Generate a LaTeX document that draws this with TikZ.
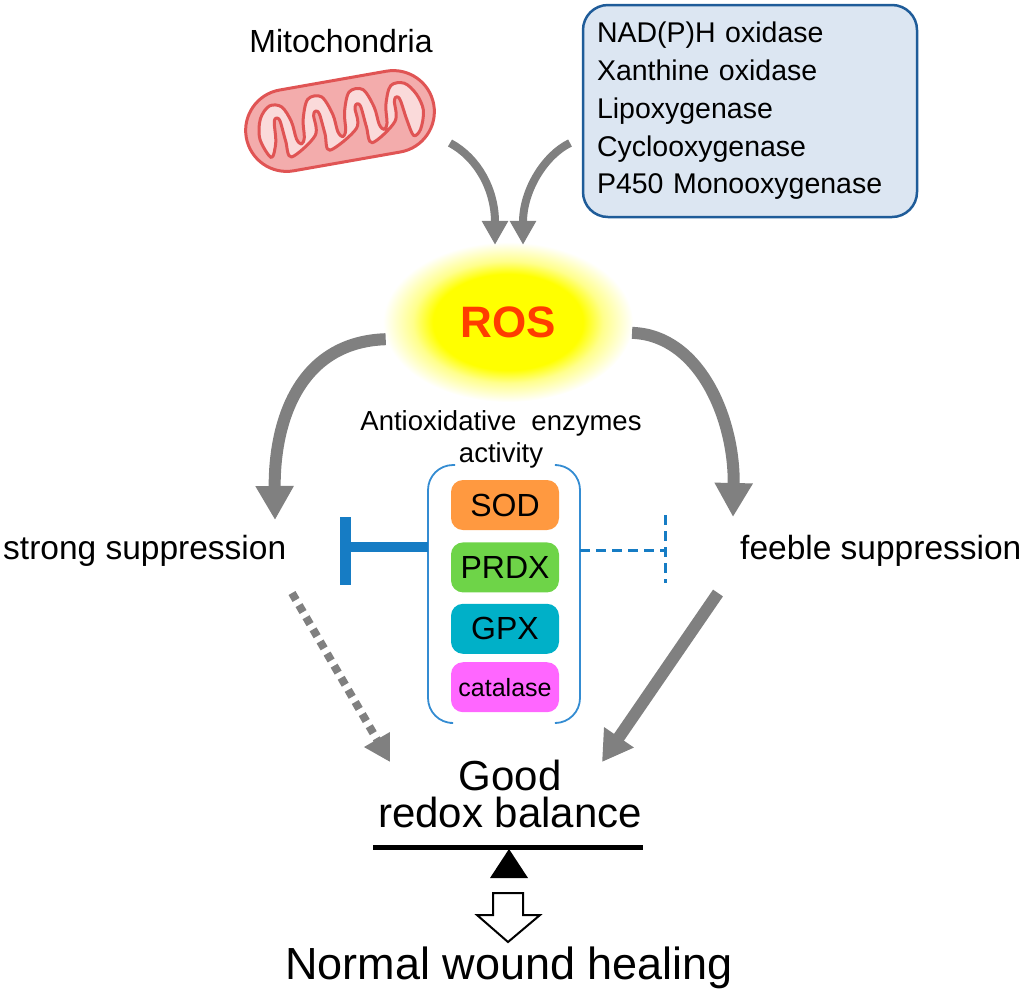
\documentclass[tikz,border=0pt]{standalone}
\usepackage{fontspec}
\setmainfont{Liberation Sans}
\usetikzlibrary{positioning, shapes.geometric, shapes.misc, arrows.meta}

\definecolor{mitored}{RGB}{224,84,84}
\definecolor{mitopink}{RGB}{243,172,172}
\definecolor{mitolight}{RGB}{250,218,218}
\definecolor{srcblue}{RGB}{220,230,242}
\definecolor{srcedge}{RGB}{31,92,153}
\definecolor{rosyellow}{RGB}{255,255,0}
\colorlet{rosfade}{rosyellow!45!white}
\definecolor{rosred}{RGB}{255,60,0}
\definecolor{arrowgray}{RGB}{128,128,128}
\definecolor{inhibblue}{RGB}{22,124,196}
\definecolor{bracketblue}{RGB}{52,140,210}
\definecolor{sodorange}{RGB}{255,153,64}
\definecolor{prdxgreen}{RGB}{110,212,72}
\definecolor{gpxteal}{RGB}{0,176,200}
\definecolor{catmagenta}{RGB}{255,102,255}

\pgfdeclareradialshading{rosglow}{\pgfpoint{0bp}{0bp}}{color(0bp)=(rosyellow); color(15bp)=(rosyellow); color(19bp)=(rosfade); color(25bp)=(white); color(50bp)=(white)}

\begin{document}
\begin{tikzpicture}[x=1pt, y=-1pt,
    bigarrow/.style={draw=arrowgray, line width=12pt, -{Triangle[length=34pt, width=36pt]}},
    smallarrow/.style={draw=arrowgray, line width=8pt, -{Triangle[length=24pt, width=25pt]}},
    enzyme/.style={rounded corners=12pt, minimum width=108pt, minimum height=50pt, inner sep=0pt, font=\fontsize{32}{36}\selectfont},
    bracket/.style={draw=bracketblue, line width=1.8pt, rounded corners=25pt},
    strongstop/.style={draw=inhibblue, line width=10pt},
    weakstop/.style={draw=inhibblue, line width=3pt, dash pattern=on 10pt off 6pt}]
    \useasboundingbox (0,0) rectangle (1024,989);

    % sources
    \node[draw=mitored, fill=mitopink, line width=3pt, rounded rectangle, minimum width=197pt, minimum height=82pt, rotate=10] (mito) at (340,121) {};
    \begin{scope}[shift={(mito.center)}, rotate=10]
        \draw[mitored, fill=mitolight, line width=3pt, line join=round]
            plot[smooth cycle, tension=0.55] coordinates {
                (-82,4) (-78,-16) (-67,-27) (-55,-24)
                (-48,-8) (-46,10) (-42,16) (-38,10) (-36,-8)
                (-28,-27) (-14,-27)
                (-6,-8) (-4,10) (0,16) (4,10) (6,-8)
                (14,-27) (28,-27)
                (36,-8) (38,10) (42,16) (46,10) (48,-8)
                (56,-26) (70,-26) (80,-13) (84,4)
                (78,22) (70,27)
                (66,10) (63,-10) (60,-14) (57,-10) (54,10)
                (28,27)
                (25,10) (23,-10) (20,-14) (17,-10) (15,10)
                (-15,27)
                (-17,10) (-19,-10) (-22,-14) (-25,-10) (-27,10)
                (-54,27)
                (-57,10) (-59,-10) (-62,-14) (-65,-10) (-67,10)
                (-74,24)};
    \end{scope}
    \node[font=\fontsize{32}{38}\selectfont, anchor=base, inner sep=0pt] (mito-label) at (341,52) {Mitochondria};

    \node[draw=srcedge, fill=srcblue, line width=2.5pt, rounded corners=25pt, minimum width=334pt, minimum height=212pt, text width=306pt, inner xsep=14pt, align=left, font=\fontsize{28.5}{37.8}\selectfont] (sources) at (750,111) {NAD(P)H oxidase\\Xanthine oxidase\\Lipoxygenase\\Cyclooxygenase\\P450 Monooxygenase};

    \node[ellipse, shade, shading=rosglow, minimum width=250pt, minimum height=160pt, text=rosred, font=\bfseries\fontsize{44}{48}\selectfont] (ros) at (508,322) {ROS};

    \coordinate (mito-out) at (450,143);
    \coordinate (src-out) at (570,143);
    \draw[smallarrow] (mito-out) .. controls (478,158) and (495,190) .. ([xshift=-13pt, yshift=-3pt]ros.north);
    \draw[smallarrow] (src-out) .. controls (545,155) and (523,190) .. ([xshift=15pt, yshift=-3pt]ros.north);

    % enzymes
    \node[font=\fontsize{27.5}{32}\selectfont, align=center, anchor=north, inner sep=0pt] (antiox) at (501,410) {Antioxidative\hspace{0.55em}enzymes\\activity};

    \node[enzyme, fill=sodorange] (sod) at (505,505) {SOD};
    \node[enzyme, fill=prdxgreen, below=12pt of sod] (prdx) {PRDX};
    \node[enzyme, fill=gpxteal, below=11pt of prdx] (gpx) {GPX};
    \node[enzyme, fill=catmagenta, below=8pt of gpx, font=\fontsize{25}{30}\selectfont] (catalase) {catalase};

    \draw[bracket] (455,465) -| (428,723) -- (450,723);
    \draw[bracket] (557,465) -| (580,723) -- (557,723);

    \node[font=\fontsize{33.5}{40}\selectfont, anchor=base west, inner sep=0pt] (strong) at (3,559) {strong suppression};
    \node[font=\fontsize{33.5}{40}\selectfont, anchor=base west, inner sep=0pt] (feeble) at (740,559) {feeble suppression};

    \coordinate (brace-l) at (428,547);
    \coordinate (stop-l) at (345,547);
    \coordinate (brace-r) at (580,550);
    \coordinate (stop-r) at (665,550);
    \draw[strongstop] (brace-l) -- (stop-l);
    \draw[strongstop, line width=11pt] ([yshift=30pt]stop-l) -- ([yshift=-38pt]stop-l);
    \draw[weakstop] (brace-r) -- (stop-r);
    \draw[weakstop] ([yshift=35pt]stop-r) -- ([yshift=-33pt]stop-r);

    \coordinate (strong-in) at (275,520);
    \coordinate (feeble-in) at (733,517);
    \draw[bigarrow] (ros.188) .. controls (300,342) and (274,420) .. (strong-in);
    \draw[bigarrow] (ros.355) .. controls (700,335) and (735,420) .. (feeble-in);

    % balance
    \node[anchor=base, inner sep=0pt, font=\fontsize{42}{37}\selectfont] (good) at (510,790) {Good};
    \node[anchor=base, inner sep=0pt, font=\fontsize{42}{37}\selectfont] (redox) at (510,827) {redox balance};

    \coordinate (strong-out) at (292,593);
    \coordinate (feeble-out) at (718,593);
    \coordinate (good-l) at (390,762);
    \coordinate (good-r) at (602,762);
    \draw[smallarrow, dash pattern=on 8pt off 6pt, -{Triangle[length=26pt, width=28pt]}] (strong-out) -- (good-l);
    \draw[bigarrow, -{Triangle[length=30pt, width=34pt]}] (feeble-out) -- (good-r);

    \draw[line width=5pt] (373,847) -- (643,847);
    \fill (509,849) -- (528,878) -- (490,878) -- cycle;

    \node[anchor=base, inner sep=0pt, font=\fontsize{45}{54}\selectfont] (heal) at (509,979) {Normal wound healing};
    \draw[line width=2pt, fill=white, line join=miter] (493,893) -- (523,893) -- (523,915) -- (540,915) -- (508,942) -- (477,915) -- (493,915) -- cycle;
\end{tikzpicture}
\end{document}
